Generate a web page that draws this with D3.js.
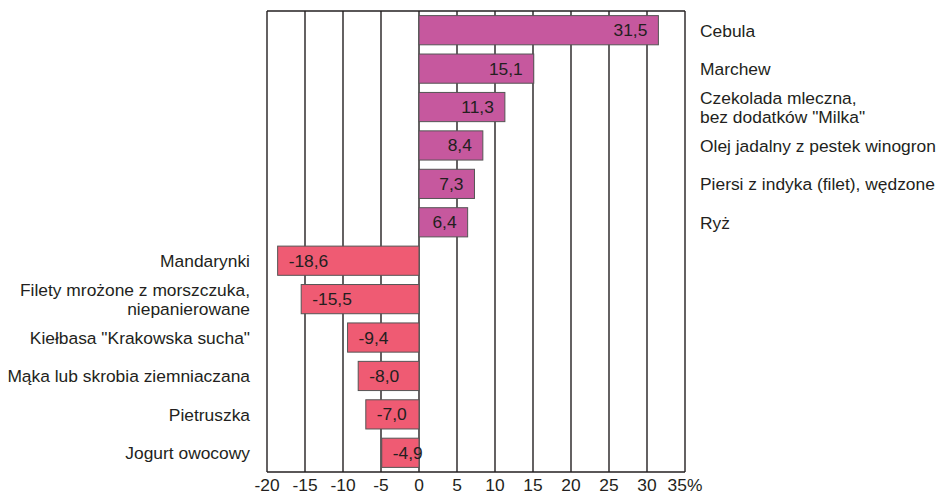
<!DOCTYPE html>
<html>
<head>
<meta charset="utf-8">
<script src="https://cdn.jsdelivr.net/npm/d3@7"></script>
<style>
  body { margin: 0; background: #fff; }
  text { font-family: "Liberation Sans", Arial, sans-serif; fill: #231f20; }
</style>
</head>
<body>
<script>
// categories, top to bottom
var categories = [
    "Cebula",
    "Marchew",
    "Czekolada mleczna,\nbez dodatków \"Milka\"",
    "Olej jadalny z pestek winogron",
    "Piersi z indyka (filet), wędzone",
    "Ryż",
    "Mandarynki",
    "Filety mrożone z morszczuka,\nniepanierowane",
    "Kiełbasa \"Krakowska sucha\"",
    "Mąka lub skrobia ziemniaczana",
    "Pietruszka",
    "Jogurt owocowy"
];

// percentage change
var values = [31.5, 15.1, 11.3, 8.4, 7.3, 6.4, -18.6, -15.5, -9.4, -8.0, -7.0, -4.9];

// x axis ticks
var ticks = [-20, -15, -10, -5, 0, 5, 10, 15, 20, 25, 30, 35];

window.onload = function(){

    var w = 938,
        h = 495;

    var left = 267, right = 685, top = 11, bottom = 472;
    var fs = "17.4px";

    var svg = d3.select("body")
        .append("svg")
        .attr("width", w)
        .attr("height", h);

    var x = d3.scaleLinear()
        .domain([-20, 35])
        .range([left, right]);

    var y = d3.scaleBand()
        .domain(d3.range(categories.length))
        .range([top, bottom])
        .paddingInner(0.24)
        .paddingOuter(0.12);

    // polish style number: comma decimal, plain hyphen
    var fmt = function(v){
        return v.toFixed(1).replace(".", ",");
    };

    // vertical grid lines
    svg.selectAll(".grid")
        .data(ticks)
        .enter()
        .append("line")
        .attr("class", "grid")
        .attr("x1", function(d){ return x(d); })
        .attr("x2", function(d){ return x(d); })
        .attr("y1", top)
        .attr("y2", bottom)
        .style("stroke", "#231f20")
        .style("stroke-width", 1.4);

    // frame top / bottom
    svg.append("line")
        .attr("x1", left).attr("x2", right)
        .attr("y1", top).attr("y2", top)
        .style("stroke", "#231f20").style("stroke-width", 1.4);
    svg.append("line")
        .attr("x1", left).attr("x2", right)
        .attr("y1", bottom).attr("y2", bottom)
        .style("stroke", "#231f20").style("stroke-width", 1.4);

    // bars
    svg.selectAll(".bar")
        .data(values)
        .enter()
        .append("rect")
        .attr("class", "bar")
        .attr("x", function(d){ return x(Math.min(0, d)); })
        .attr("width", function(d){ return Math.abs(x(d) - x(0)); })
        .attr("y", function(d, i){ return y(i); })
        .attr("height", y.bandwidth())
        .style("fill", function(d){ return d >= 0 ? "#c6589e" : "#ef5b73"; })
        .style("stroke", "#555")
        .style("stroke-width", 1);

    // value labels inside bars
    svg.selectAll(".val")
        .data(values)
        .enter()
        .append("text")
        .attr("class", "val")
        .attr("x", function(d){ return d >= 0 ? x(d) - 11 : x(d) + 11; })
        .attr("y", function(d, i){ return y(i) + y.bandwidth() / 2 + 6; })
        .attr("text-anchor", function(d){ return d >= 0 ? "end" : "start"; })
        .style("font-size", fs)
        .text(function(d){ return fmt(d); });

    // category labels
    var cats = svg.selectAll(".cat")
        .data(categories)
        .enter()
        .append("text")
        .attr("class", "cat")
        .attr("text-anchor", function(d, i){ return values[i] >= 0 ? "start" : "end"; })
        .style("font-size", fs);

    cats.each(function(d, i){
        var lines = d.split("\n");
        var cy = y(i) + y.bandwidth() / 2 + 6.5 - (lines.length - 1) * 9.5;
        var tx = values[i] >= 0 ? 700 : 250;
        d3.select(this).selectAll("tspan")
            .data(lines)
            .enter()
            .append("tspan")
            .attr("x", tx)
            .attr("y", function(l, j){ return cy + j * 19; })
            .text(function(l){ return l; });
    });

    // x tick labels
    svg.selectAll(".tick")
        .data(ticks)
        .enter()
        .append("text")
        .attr("class", "tick")
        .attr("x", function(d){ return x(d); })
        .attr("y", 491)
        .attr("text-anchor", "middle")
        .style("font-size", fs)
        .text(function(d, i){ return i === ticks.length - 1 ? d + "%" : d; });
};
</script>
</body>
</html>
